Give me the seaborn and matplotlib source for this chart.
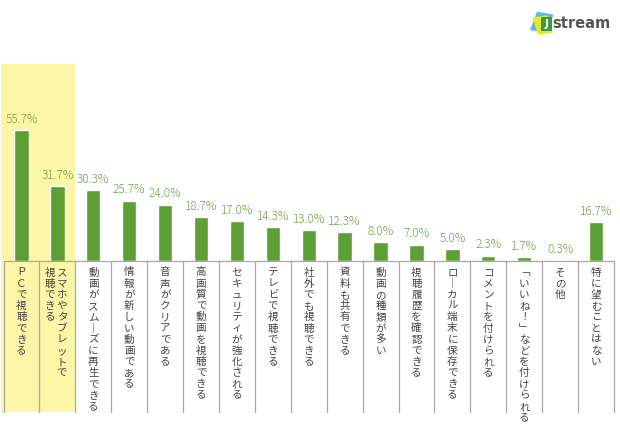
import matplotlib
matplotlib.use("Agg")
import matplotlib.pyplot as plt
import matplotlib.patches as mpatches
import seaborn as sns
import pandas as pd

# データ
categories = [
    "ＰＣで視聴できる",
    "スマホやタブレットで/視聴できる",
    "動画がスムーズに再生できる",
    "情報が新しい動画である",
    "音声がクリアである",
    "高画質で動画を視聴できる",
    "セキュリティが強化される",
    "テレビで視聴できる",
    "社外でも視聴できる",
    "資料も共有できる",
    "動画の種類が多い",
    "視聴履歴を確認できる",
    "ローカル端末に保存できる",
    "コメントを付けられる",
    "「いいね！」などを付けられる",
    "その他",
    "特に望むことはない",
]
values = [55.7, 31.7, 30.3, 25.7, 24.0, 18.7, 17.0, 14.3, 13.0, 12.3,
          8.0, 7.0, 5.0, 2.3, 1.7, 0.3, 16.7]

bar_color = "#5e9f35"
text_green = "#6ea24a"
line_gray = "#a8a8a8"
jp_font = ["Noto Sans CJK JP", "DejaVu Sans"]

sns.set_style("white")
plt.rcParams["font.family"] = jp_font

df = pd.DataFrame({"cat": categories, "val": values})

fig = plt.figure(figsize=(6.2, 4.28), dpi=100)
ax = fig.add_axes([3.5 / 620, 167 / 428, 610.5 / 620, 197 / 428])

sns.barplot(data=df, x="cat", y="val", color=bar_color, width=0.4,
            saturation=1, ax=ax, zorder=3)
ax.set_xlim(-0.5, len(categories) - 0.5)
ax.set_ylim(0, 83.8)
ax.set_xticks([])
ax.set_yticks([])
ax.set_xlabel("")
ax.set_ylabel("")
for s in ax.spines.values():
    s.set_visible(False)

# ハイライト（黄色の背景）
ax.add_patch(mpatches.Rectangle((-0.57, -64.3), 2.07, 64.3 + 83.8,
                                facecolor="#fdf6a6", edgecolor="none",
                                zorder=0, clip_on=False))

# 区切り線と基準線
ax.plot([-0.5, len(categories) - 0.5], [0, 0], color=line_gray, lw=0.9,
        clip_on=False, zorder=4)
for i in range(len(categories) + 1):
    ax.plot([i - 0.5, i - 0.5], [0, -64.3], color=line_gray, lw=0.9,
            clip_on=False, zorder=4)

# 値ラベル
for i, v in enumerate(values):
    ax.annotate(f"{v:.1f}%", (i, v), xytext=(0, 3), textcoords="offset points",
                ha="center", va="bottom", fontsize=8.5, color=text_green,
                fontweight="light")

# 縦書きラベル（1文字ずつ配置）
rep = {"ー": "｜", "「": "﹁", "」": "﹂"}
pitch = 11.2


def tate(x, dx, s):
    for k, ch in enumerate(s):
        ax.annotate(rep.get(ch, ch), (x, 0), xytext=(dx, -(11.5 + k * pitch)),
                    textcoords="offset pixels", ha="center", va="center",
                    fontsize=7.6, color="#444444", annotation_clip=False)


for i, c in enumerate(categories):
    cols = c.split("/")
    if len(cols) == 1:
        tate(i, 0, cols[0])
    else:
        tate(i, 4.5, cols[0])
        tate(i, -7.5, cols[1])

# ロゴ
def px(x, y):
    return x / 620, 1 - y / 428

logo_blue = mpatches.Rectangle(px(530, 30), 17 / 620, 19 / 428, angle=-15,
                               transform=fig.transFigure, facecolor="#62b5e5",
                               edgecolor="none")
logo_yellow = mpatches.Rectangle(px(538, 35), 15 / 620, 18 / 428, angle=12,
                                 transform=fig.transFigure, facecolor="#e3e833",
                                 edgecolor="none")
logo_green = mpatches.Rectangle(px(541, 31), 11 / 620, 14 / 428, angle=0,
                                transform=fig.transFigure, facecolor="#3f9c3a",
                                edgecolor="none")
for p in (logo_blue, logo_yellow, logo_green):
    fig.add_artist(p)
fig.text(*px(546.5, 24), "J", ha="center", va="center", fontsize=8,
         fontweight="bold", color="white", family="DejaVu Sans")
fig.text(*px(552, 24), "stream", ha="left", va="center", fontsize=10.5,
         fontweight="bold", color="#555555", family="DejaVu Sans")

fig.savefig("out.png", dpi=100)
